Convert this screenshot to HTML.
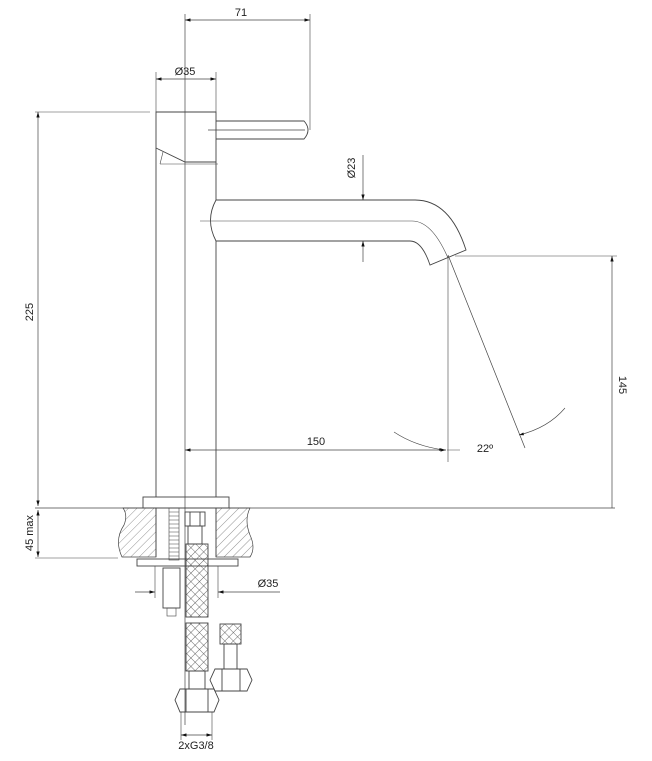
<!DOCTYPE html>
<html><head><meta charset="utf-8"><style>
html,body{margin:0;padding:0;background:#fff;}
svg{display:block;}
text{font-family:"Liberation Sans",sans-serif;font-size:11px;fill:#222;}
</style></head><body>
<svg width="652" height="761" viewBox="0 0 652 761" xmlns="http://www.w3.org/2000/svg">
<defs>
<marker id="a" viewBox="0 0 10 6" refX="10" refY="3" markerWidth="8" markerHeight="5" orient="auto-start-reverse"><path d="M0,0 L10,3 L0,6z" fill="#111"/></marker>
<pattern id="h" width="6" height="6" patternUnits="userSpaceOnUse" patternTransform="rotate(45)"><line x1="0" y1="0" x2="0" y2="6" stroke="#666" stroke-width="0.7"/></pattern>
<pattern id="x" width="6" height="6" patternUnits="userSpaceOnUse" patternTransform="rotate(45)"><path d="M0,0H6M0,0V6" stroke="#444" stroke-width="0.8" fill="none"/></pattern>
</defs>
<g fill="none" stroke="#444" stroke-width="0.9">
<line x1="185" y1="14" x2="185" y2="725" stroke-width="0.7"/>
<line x1="310" y1="14" x2="310" y2="130" stroke-width="0.6"/>
<line x1="185" y1="20" x2="310" y2="20" stroke-width="0.7" marker-start="url(#a)" marker-end="url(#a)"/>
<line x1="156" y1="72" x2="156" y2="112" stroke-width="0.6"/>
<line x1="216" y1="72" x2="216" y2="112" stroke-width="0.6"/>
<line x1="156" y1="79" x2="216" y2="79" stroke-width="0.7" marker-start="url(#a)" marker-end="url(#a)"/>
<path d="M156,112 H216 V162 H185 L156,148 Z"/>
<line x1="160" y1="164" x2="218" y2="164" stroke-width="0.6"/>
<line x1="160" y1="164" x2="163" y2="152" stroke-width="0.6"/>
<path d="M216,121 H304 Q312,130 304,139 H216"/>
<line x1="208" y1="130" x2="305" y2="130" stroke-width="0.7"/>
<line x1="156" y1="148" x2="156" y2="497"/>
<line x1="216" y1="162" x2="216" y2="200"/>
<line x1="216" y1="241" x2="216" y2="497"/>
<path d="M216,200 H415 Q450,200 466,250 L430,265 Q422,241 410,241 H216"/>
<path d="M216,200 Q205,220 216,241"/>
<path d="M200,221 H412 Q432,221 448,258" stroke-width="0.6"/>
<line x1="363" y1="155" x2="363" y2="200" stroke-width="0.7" marker-end="url(#a)"/>
<line x1="363" y1="262" x2="363" y2="241" stroke-width="0.7" marker-end="url(#a)"/>
<line x1="448" y1="256" x2="448" y2="462" stroke-width="0.6"/>
<line x1="185" y1="450" x2="446" y2="450" stroke-width="0.7" marker-start="url(#a)" marker-end="url(#a)"/>
<line x1="448" y1="255" x2="525" y2="448" stroke-width="0.7"/>
<path d="M394,432 Q415,446 444,450" stroke-width="0.6" marker-end="url(#a)"/>
<line x1="447" y1="450" x2="460" y2="450" stroke-width="0.5"/>
<path d="M565,408 Q548,428 519,435" stroke-width="0.6" marker-end="url(#a)"/>
<line x1="455" y1="256" x2="617" y2="256" stroke-width="0.6"/>
<line x1="612" y1="256" x2="612" y2="508" stroke-width="0.7" marker-start="url(#a)"/>
<line x1="35" y1="112" x2="150" y2="112" stroke-width="0.6"/>
<line x1="38" y1="112" x2="38" y2="506" stroke-width="0.7" marker-start="url(#a)" marker-end="url(#a)"/>
<line x1="38" y1="510" x2="38" y2="557" stroke-width="0.7" marker-start="url(#a)" marker-end="url(#a)"/>
<line x1="35" y1="508" x2="615" y2="508" stroke-width="0.7"/>
<line x1="35" y1="558" x2="118" y2="558" stroke-width="0.6"/>
<rect x="143" y="497" width="86" height="11"/>
<path d="M123,508 H156 V557 H122 Q114,540 124,525 Q128,515 123,508Z" fill="url(#h)" stroke-width="0.7"/>
<path d="M216,508 H250 Q244,520 250,535 Q256,548 250,557 H216Z" fill="url(#h)" stroke-width="0.7"/>
<line x1="156" y1="508" x2="156" y2="557"/>
<line x1="216" y1="508" x2="216" y2="557"/>
<rect x="137" y="559" width="101" height="7"/>
<rect x="169" y="508" width="10" height="52" stroke-width="0.6"/>
<path d="M169,512 H179 M169,516 H179 M169,520 H179 M169,524 H179 M169,528 H179 M169,532 H179 M169,536 H179 M169,540 H179 M169,544 H179 M169,548 H179 M169,552 H179 M169,556 H179" stroke-width="0.5"/>
<rect x="163" y="568" width="17" height="40"/>
<rect x="167" y="608" width="9" height="8" stroke-width="0.6"/>
<rect x="185" y="512" width="20" height="14"/>
<line x1="190" y1="512" x2="190" y2="526"/><line x1="200" y1="512" x2="200" y2="526"/>
<rect x="188" y="526" width="14" height="18"/>
<rect x="186" y="544" width="22" height="73" fill="url(#x)"/>
<rect x="186" y="623" width="22" height="48" fill="url(#x)"/>
<rect x="189" y="671" width="16" height="18"/>
<path d="M180,689 H214 L219,700 L214,712 H180 L175,700 Z"/>
<line x1="186" y1="689" x2="186" y2="712"/><line x1="208" y1="689" x2="208" y2="712"/>
<line x1="181" y1="712" x2="181" y2="740" stroke-width="0.6"/>
<line x1="212" y1="712" x2="212" y2="740" stroke-width="0.6"/>
<line x1="181" y1="735" x2="212" y2="735" stroke-width="0.7" marker-start="url(#a)" marker-end="url(#a)"/>
<rect x="220" y="624" width="21" height="20" fill="url(#x)"/>
<rect x="224" y="644" width="13" height="25"/>
<path d="M215,669 H247 L252,680 L247,691 H215 L210,680 Z"/>
<line x1="222" y1="669" x2="222" y2="691"/><line x1="240" y1="669" x2="240" y2="691"/>
<line x1="155" y1="566" x2="155" y2="598" stroke-width="0.6"/>
<line x1="218" y1="566" x2="218" y2="598" stroke-width="0.6"/>
<line x1="135" y1="592" x2="155" y2="592" stroke-width="0.7" marker-end="url(#a)"/>
<line x1="280" y1="592" x2="218" y2="592" stroke-width="0.7" marker-end="url(#a)"/>
</g>
<text x="241" y="16" text-anchor="middle">71</text>
<text x="185" y="75" text-anchor="middle">Ø35</text>
<text x="355" y="168" transform="rotate(-90 355 168)" text-anchor="middle">Ø23</text>
<text x="316" y="445" text-anchor="middle">150</text>
<text x="485" y="452" text-anchor="middle">22º</text>
<text x="619" y="385" transform="rotate(90 619 385)" text-anchor="middle">145</text>
<text x="33" y="312" transform="rotate(-90 33 312)" text-anchor="middle">225</text>
<text x="33" y="533" transform="rotate(-90 33 533)" text-anchor="middle">45 max</text>
<text x="268" y="587" text-anchor="middle">Ø35</text>
<text x="196" y="749" text-anchor="middle">2xG3/8</text>
</svg>
</body></html>
